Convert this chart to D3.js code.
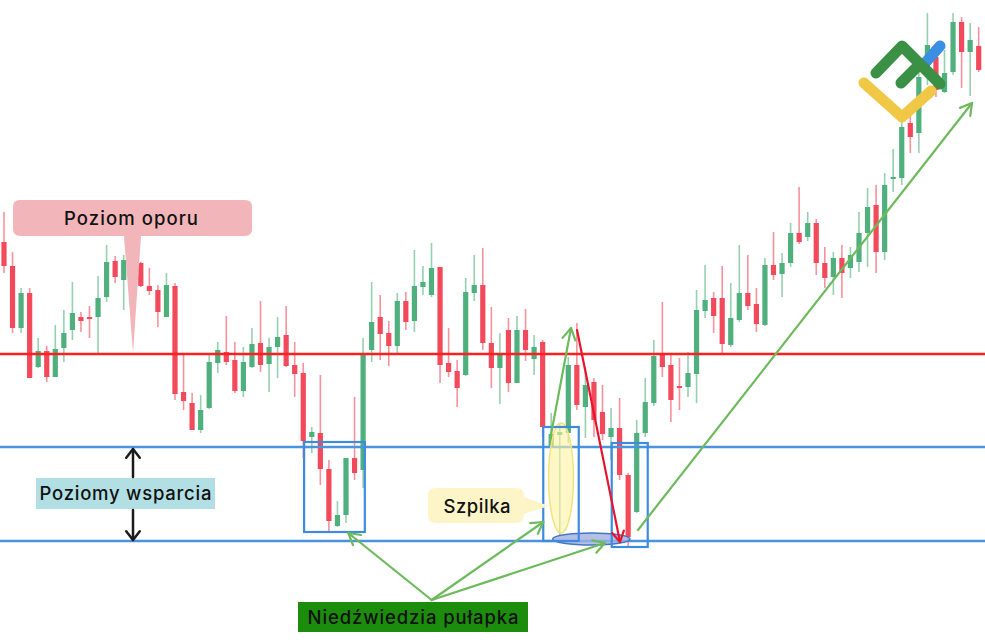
<!DOCTYPE html>
<html><head><meta charset="utf-8">
<script src="https://cdn.jsdelivr.net/npm/d3@7"></script>
<style>html,body{margin:0;padding:0;background:#fff;overflow:hidden}</style>
</head><body><svg id="chart" width="985" height="643"></svg>
<script>
// ---- Data ----
const openP = [
1.1299,1.1275,1.1213,1.1248,1.1174,1.1190,1.1164,1.1193,1.1211,1.1224,
1.1224,1.1224,1.1244,1.1280,1.1261,1.1273,1.1278,1.1255,1.1251,1.1224,
1.1255,1.1149,1.1138,1.1111,1.1133,1.1178,1.1189,1.1181,1.1150,1.1174,
1.1198,1.1177,1.1194,1.1206,1.1176,1.1168,1.1104,1.1108,1.1072,1.1015,
1.1026,1.1083,1.1071,1.1191,1.1224,1.1208,1.1195,1.1240,1.1220,1.1254,
1.1246,1.1274,1.1178,1.1170,1.1166,1.1248,1.1256,1.1198,1.1173,1.1211,
1.1158,1.1211,1.1182,1.1199,1.1095,1.1106,1.1108,1.1176,1.1134,1.1159,
1.1129,1.1104,1.1113,1.1066,1.1029,1.1108,1.1138,1.1187,1.1176,1.1155,
1.1154,1.1167,1.1230,1.1243,1.1243,1.1196,1.1221,1.1248,1.1237,1.1216,
1.1276,1.1267,1.1278,1.1308,1.1304,1.1318,1.1278,1.1264,1.1283,1.1273,
1.1279,1.1308,1.1336,1.1289,1.1362,1.1363,1.1418,1.1408,1.1466,1.1484,
1.1449,1.1469,1.1519,1.1489,1.1495];
const highP = [
1.1329,1.1289,1.1253,1.1253,1.1203,1.1195,1.1216,1.1231,1.1259,1.1229,
1.1235,1.1265,1.1296,1.1285,1.1286,1.1279,1.1279,1.1273,1.1256,1.1268,
1.1258,1.1188,1.1148,1.1146,1.1186,1.1199,1.1225,1.1199,1.1194,1.1213,
1.1240,1.1203,1.1224,1.1235,1.1199,1.1178,1.1114,1.1166,1.1081,1.1040,
1.1083,1.1144,1.1203,1.1259,1.1246,1.1220,1.1248,1.1249,1.1291,1.1275,
1.1298,1.1274,1.1213,1.1181,1.1263,1.1286,1.1293,1.1234,1.1208,1.1223,
1.1225,1.1232,1.1206,1.1201,1.1128,1.1118,1.1184,1.1218,1.1174,1.1163,
1.1156,1.1133,1.1143,1.1068,1.1121,1.1163,1.1201,1.1239,1.1188,1.1183,
1.1189,1.1251,1.1276,1.1249,1.1275,1.1258,1.1296,1.1286,1.1253,1.1283,
1.1309,1.1288,1.1318,1.1354,1.1329,1.1322,1.1294,1.1289,1.1296,1.1294,
1.1329,1.1353,1.1356,1.1368,1.1392,1.1428,1.1428,1.1471,1.1528,1.1491,
1.1491,1.1528,1.1524,1.1518,1.1514];
const lowP = [
1.1268,1.1208,1.1208,1.1163,1.1173,1.1159,1.1164,1.1179,1.1201,1.1209,
1.1203,1.1186,1.1239,1.1258,1.1231,1.1249,1.1254,1.1246,1.1214,1.1224,
1.1141,1.1131,1.1111,1.1108,1.1132,1.1168,1.1176,1.1148,1.1144,1.1173,
1.1169,1.1149,1.1163,1.1174,1.1144,1.1083,1.1088,1.1056,1.1008,1.1014,
1.1018,1.1061,1.1053,1.1179,1.1181,1.1175,1.1188,1.1211,1.1209,1.1246,
1.1244,1.1158,1.1164,1.1134,1.1165,1.1240,1.1191,1.1153,1.1137,1.1149,
1.1158,1.1180,1.1166,1.1104,1.1094,1.1006,1.1098,1.1131,1.1103,1.1104,
1.1101,1.1081,1.1061,1.0994,1.1028,1.1104,1.1135,1.1164,1.1119,1.1131,
1.1144,1.1138,1.1223,1.1208,1.1188,1.1194,1.1219,1.1231,1.1209,1.1215,
1.1261,1.1244,1.1274,1.1297,1.1300,1.1266,1.1253,1.1246,1.1243,1.1263,
1.1269,1.1274,1.1268,1.1281,1.1349,1.1356,1.1388,1.1388,1.1456,1.1444,
1.1448,1.1466,1.1453,1.1445,1.1469];
const closeP = [
1.1275,1.1213,1.1248,1.1163,1.1190,1.1164,1.1192,1.1208,1.1228,1.1220,
1.1222,1.1243,1.1279,1.1264,1.1281,1.1256,1.1255,1.1250,1.1229,1.1256,
1.1147,1.1140,1.1111,1.1131,1.1179,1.1191,1.1179,1.1150,1.1179,1.1197,
1.1176,1.1194,1.1204,1.1175,1.1167,1.1100,1.1109,1.1072,1.1020,1.1026,
1.1083,1.1068,1.1187,1.1219,1.1207,1.1195,1.1240,1.1219,1.1255,1.1259,
1.1273,1.1176,1.1169,1.1153,1.1249,1.1256,1.1198,1.1173,1.1186,1.1158,
1.1211,1.1191,1.1194,1.1114,1.1107,1.1109,1.1176,1.1136,1.1156,1.1121,
1.1107,1.1113,1.1066,1.1004,1.1108,1.1139,1.1185,1.1174,1.1141,1.1153,
1.1168,1.1231,1.1241,1.1225,1.1197,1.1223,1.1248,1.1235,1.1217,1.1276,
1.1266,1.1278,1.1308,1.1299,1.1318,1.1278,1.1263,1.1283,1.1268,1.1286,
1.1308,1.1334,1.1289,1.1356,1.1364,1.1414,1.1404,1.1464,1.1496,1.1451,
1.1468,1.1519,1.1489,1.1501,1.1471];

const resistanceLevels = [1.1187];
const supportLevels = [1.1094, 1.1000];

// Annotation anchors in data space: [candle index, price]
const trapBoxes = [
  {i0: 35.1, i1: 42.2, p0: 1.1099, p1: 1.1009},
  {i0: 63.07, i1: 67.22, p0: 1.1114, p1: 1.1000},
  {i0: 71.08, i1: 75.29, p0: 1.1098, p1: 1.0994}
];
const greenArrows = [
  [[50.02, 1.0941], [40.27, 1.1008]],
  [[50.02, 1.0941], [63.08, 1.1019]],
  [[50.02, 1.0941], [70.29, 1.0998]],
  [[63.86, 1.1101], [66.32, 1.1213]],
  [[74.15, 1.1011], [113.22, 1.1438]]
];
const redArrows = [[[67.02, 1.1211], [72.05, 1.0999]]];

// ---- Chart ----
const W = 985, H = 643;
const svg = d3.select('#chart');
const x = d3.scaleLinear().domain([0, openP.length - 1]).range([4, 978.7]);
const y = d3.scaleLinear().domain([1.0898, 1.1541]).range([H, 0]);
const data = openP.map((o, i) => ({i, o, h: highP[i], l: lowP[i], c: closeP[i]}));
const upC = '#4fb07d', downC = '#f24a5b';
const col = d => d.c >= d.o ? upC : downC;

const gC = svg.append('g');
gC.selectAll('line.wick').data(data).join('line').attr('class', 'wick')
  .attr('x1', d => x(d.i)).attr('x2', d => x(d.i))
  .attr('y1', d => y(d.h)).attr('y2', d => y(d.l))
  .attr('stroke', col).attr('stroke-width', 1.6).attr('stroke-opacity', 0.6);
gC.selectAll('rect.body').data(data).join('rect').attr('class', 'body')
  .attr('x', d => x(d.i) - 2.6).attr('width', 5.2)
  .attr('y', d => y(Math.max(d.o, d.c)))
  .attr('height', d => Math.max(1.6, Math.abs(y(d.o) - y(d.c))))
  .attr('fill', col);

// levels
const gL = svg.append('g');
gL.selectAll('line.sup').data(supportLevels).join('line').attr('class', 'sup')
  .attr('x1', 0).attr('x2', W).attr('y1', d => y(d)).attr('y2', d => y(d))
  .attr('stroke', '#4a93e0').attr('stroke-width', 2.4);
gL.selectAll('line.res').data(resistanceLevels).join('line').attr('class', 'res')
  .attr('x1', 0).attr('x2', W).attr('y1', d => y(d)).attr('y2', d => y(d))
  .attr('stroke', '#ff1f1f').attr('stroke-width', 2.5);

// ellipses
const gA = svg.append('g');
gA.append('ellipse')
  .attr('cx', (x(63.7) + x(66.6)) / 2).attr('cy', (y(1.1118) + y(1.1008)) / 2)
  .attr('rx', (x(66.6) - x(63.7)) / 2).attr('ry', (y(1.1008) - y(1.1118)) / 2)
  .attr('fill', '#fff4a0').attr('fill-opacity', 0.6)
  .attr('stroke', '#f2e27c').attr('stroke-width', 1.5);
gA.append('ellipse')
  .attr('cx', (x(64.17) + x(73.22)) / 2).attr('cy', (y(1.1008) + y(1.0996)) / 2)
  .attr('rx', (x(73.22) - x(64.17)) / 2).attr('ry', (y(1.0996) - y(1.1008)) / 2)
  .attr('fill', '#9fb0de').attr('fill-opacity', 0.8)
  .attr('stroke', '#4774c4').attr('stroke-width', 1.5);

// boxes
gA.selectAll('rect.box').data(trapBoxes).join('rect').attr('class', 'box')
  .attr('x', d => x(d.i0)).attr('width', d => x(d.i1) - x(d.i0))
  .attr('y', d => y(d.p0)).attr('height', d => y(d.p1) - y(d.p0))
  .attr('fill', 'none').attr('stroke', '#3d8be0').attr('stroke-width', 2.2);

function arrowPx(g, x0, y0, x1, y1, color, w, head, ang) {
  const a = Math.atan2(y1 - y0, x1 - x0), s = ang * Math.PI / 180;
  g.append('line').attr('x1', x0).attr('y1', y0).attr('x2', x1).attr('y2', y1)
    .attr('stroke', color).attr('stroke-width', w).attr('stroke-linecap', 'round');
  const pts = [[x1 - head * Math.cos(a - s), y1 - head * Math.sin(a - s)], [x1, y1],
               [x1 - head * Math.cos(a + s), y1 - head * Math.sin(a + s)]];
  g.append('polyline').attr('points', pts.map(p => p.join(',')).join(' '))
    .attr('fill', 'none').attr('stroke', color).attr('stroke-width', w)
    .attr('stroke-linecap', 'round').attr('stroke-linejoin', 'round');
}
greenArrows.forEach(([p0, p1]) => arrowPx(gA, x(p0[0]), y(p0[1]), x(p1[0]), y(p1[1]), '#6dba5c', 2.2, 13, 30));
redArrows.forEach(([p0, p1]) => arrowPx(gA, x(p0[0]), y(p0[1]), x(p1[0]), y(p1[1]), '#e8142e', 2.2, 12, 30));

// labels
const FONT = "Inter, 'Open Sans', sans-serif";
const gT = svg.append('g');
gT.append('path')
  .attr('d', 'M20,200 H245 Q252,200 252,207 V229 Q252,236 245,236 H141 L133,353 L124,236 H20 Q13,236 13,229 V207 Q13,200 20,200 Z')
  .attr('fill', '#f2b6ba');
gT.append('path')
  .attr('d', 'M436,488 H516 Q524,488 524,496 V497 L549,506 L524,514 V515 Q524,523 516,523 H436 Q428,523 428,515 V496 Q428,488 436,488 Z')
  .attr('fill', '#fdf5c8');
gT.append('rect').attr('x', 36).attr('y', 478).attr('width', 179).attr('height', 31).attr('fill', '#b2dfe3');
gT.append('rect').attr('x', 298).attr('y', 602).attr('width', 230).attr('height', 30).attr('fill', '#1b8c0b');

arrowPx(gT, 133, 477, 133, y(supportLevels[0]) + 2, '#1b1b1b', 2.5, 11, 38);
arrowPx(gT, 133, 510, 133, y(supportLevels[1]) - 1, '#1b1b1b', 2.5, 11, 38);

const labels = [
  {t: 'Poziom oporu', x: 131, y: 224.5, w: 134},
  {t: 'Poziomy wsparcia', x: 125.5, y: 500, w: 172},
  {t: 'Szpilka', x: 477, y: 513, w: 67},
  {t: 'Niedźwiedzia pułapka', x: 413, y: 623.5, w: 211}
];
gT.selectAll('text.lbl').data(labels).join('text').attr('class', 'lbl')
  .attr('x', d => d.x).attr('y', d => d.y).attr('text-anchor', 'middle')
  .attr('font-family', FONT).attr('font-size', 18.5).attr('font-weight', 500)
  .attr('fill', '#111').attr('textLength', d => d.w).attr('lengthAdjust', 'spacing')
  .text(d => d.t);

// logo
const gLogo = svg.append('g').attr('fill', 'none').attr('stroke-linecap', 'round').attr('stroke-linejoin', 'round').attr('stroke-width', 11);
gLogo.append('path').attr('d', 'M926,62 L940,46').attr('stroke', '#3b8fe3');
gLogo.append('path').attr('d', 'M864,83 L902,117 L931,91').attr('stroke', '#f0c846');
gLogo.append('path').attr('d', 'M876,73 L902,46 L940,84 M901,83 L920,64').attr('stroke', '#3a9146');
</script>
</body></html>
